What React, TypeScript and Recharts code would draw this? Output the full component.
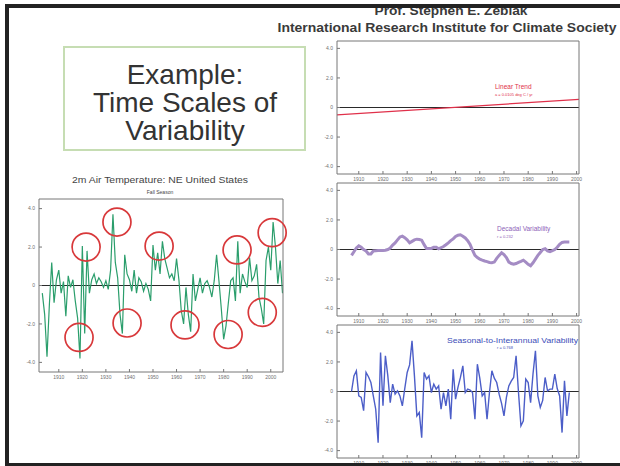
import React from "react"
import { LineChart, Line, XAxis, YAxis, ReferenceLine, ReferenceDot } from "recharts"

const FONT = '"Liberation Sans", Arial, sans-serif'

// left panel: 2m air temperature, NE United States, fall season
const fallYears = [
  1903, 1904, 1905, 1906, 1907, 1908, 1909, 1910, 1911, 1912,
  1913, 1914, 1915, 1916, 1917, 1918, 1919, 1920, 1921, 1922,
  1923, 1924, 1925, 1926, 1927, 1928, 1929, 1930, 1931, 1932,
  1933, 1934, 1935, 1936, 1937, 1938, 1939, 1940, 1941, 1942,
  1943, 1944, 1945, 1946, 1947, 1948, 1949, 1950, 1951, 1952,
  1953, 1954, 1955, 1956, 1957, 1958, 1959, 1960, 1961, 1962,
  1963, 1964, 1965, 1966, 1967, 1968, 1969, 1970, 1971, 1972,
  1973, 1974, 1975, 1976, 1977, 1978, 1979, 1980, 1981, 1982,
  1983, 1984, 1985, 1986, 1987, 1988, 1989, 1990, 1991, 1992,
  1993, 1994, 1995, 1996, 1997, 1998, 1999, 2000, 2001, 2002,
  2003, 2004, 2005,
]
const fallAnomaly = [
  -0.4, -1.5, -3.7, -1.0, 1.2, -0.9, 0.3, 0.8, -0.4, 0.2,
  -1.6, 0.5, -0.1, 0.3, -0.8, -1.7, -3.8, 2.05, -2.5, 1.8,
  -0.4, 0.3, 0.6, 0.1, 0.4, 0.2, -0.1, 0.25, -0.2, 0.8,
  3.7, 1.2, 0.4, -1.5, -2.5, 1.6, 0.6, 0.3, -0.3, 0.8,
  -0.4, 0.4, 0.2, -0.3, 0.1, -0.2, -0.8, 2.1, 0.8, 1.7,
  0.6, 2.3, 1.4, 0.9, 0.4, 0.6, 0.25, 1.4, 0.3, -1.3,
  -2.0, -0.1, -1.5, -2.4, 0.6, -0.8, -0.2, 0.4, -0.4, 0.1,
  0.25, -0.1, -0.6, 0.25, 1.6, 0.25, -1.2, -2.8, -2.1, -0.9,
  0.25, 0.4, -0.8, 2.3, -0.4, 0.6, 0.2, -0.1, 1.45, 0.25,
  0.5, 1.1, -0.6, -1.2, -2.0, 1.3, 2.0, 0.8, 3.3, 2.0,
  0.1, 1.3, -0.4,
]
// red circles around the extremes
const circleYears = [1918.6, 1921.6, 1934.7, 1939.0, 1952.6, 1963.6, 1981.9, 1985.7, 1996.4, 2000.6]
const circleValues = [-2.7, 2.0, 3.3, -1.95, 2.05, -2.05, -2.55, 1.85, -1.4, 2.75]

// right panels
const panelYears = [
  1907, 1908, 1909, 1910, 1911, 1912, 1913, 1914, 1915, 1916,
  1917, 1918, 1919, 1920, 1921, 1922, 1923, 1924, 1925, 1926,
  1927, 1928, 1929, 1930, 1931, 1932, 1933, 1934, 1935, 1936,
  1937, 1938, 1939, 1940, 1941, 1942, 1943, 1944, 1945, 1946,
  1947, 1948, 1949, 1950, 1951, 1952, 1953, 1954, 1955, 1956,
  1957, 1958, 1959, 1960, 1961, 1962, 1963, 1964, 1965, 1966,
  1967, 1968, 1969, 1970, 1971, 1972, 1973, 1974, 1975, 1976,
  1977, 1978, 1979, 1980, 1981, 1982, 1983, 1984, 1985, 1986,
  1987, 1988, 1989, 1990, 1991, 1992, 1993, 1994, 1995, 1996,
  1997,
]
const decadal = [
  -0.4, -0.15, 0.1, 0.25, 0.15, 0.0, -0.1, -0.3, -0.3, -0.1,
  -0.08, -0.07, -0.07, -0.07, -0.05, 0.0, 0.1, 0.3, 0.45, 0.65,
  0.85, 0.9, 0.8, 0.65, 0.45, 0.55, 0.65, 0.7, 0.68, 0.63,
  0.33, 0.07, 0.07, 0.07, 0.15, 0.15, 0.05, 0.12, 0.2, 0.32,
  0.45, 0.6, 0.72, 0.88, 0.97, 1.0, 0.9, 0.78, 0.6, 0.35,
  -0.05, -0.4, -0.55, -0.65, -0.72, -0.78, -0.82, -0.88, -0.9, -0.85,
  -0.6, -0.4, -0.22, -0.35, -0.55, -0.85, -0.95, -1.0, -0.95, -0.87,
  -0.8, -0.72, -0.85, -1.0, -1.1, -0.9, -0.65, -0.4, -0.2, 0.0,
  0.05, -0.1, -0.15, -0.08, 0.0, 0.15, 0.35, 0.48, 0.5, 0.5,
  0.5,
]
const interannual = [
  0, 1.06, 1.4, -0.3, -0.4, -1.3, 1.29, 1.0, 0.61, -0.3,
  -1.2, -3.46, 2.64, -0.97, 2.42, 1.06, -0.75, 0.5, -0.18, 0.05,
  -0.3, -0.97, 0.2, 1.29, 1.8, 3.43, 1.06, -1.65, -1.42, -3.12,
  1.29, 0.84, 1.06, -0.07, 0.5, 0.16, 0.38, -1.2, -0.07, -0.97,
  0.16, -1.88, 1.51, -0.52, 0.3, 0.95, 1.74, -0.07, 0.16, 0.1,
  -0.07, -1.88, 1.85, 0.9, -0.3, -0.07, -1.88, -0.07, 1.4, 0.9,
  0.61, -0.18, -0.8, -1.65, -0.4, 0.38, 0.7, 0.95, 2.42, -0.07,
  -2.33, -1.99, 0.84, 0.61, -0.75, 1.2, 2.76, -0.3, -1.08, -0.6,
  0.95, 0.05, 0.16, 0.16, 1.18, 0.2, -0.3, -2.78, 0.72, -1.65,
  -0.07,
]
const trendYears = [1901, 2001]
const trendValues = [-0.5, 0.55]

const yearTicks = [1910, 1920, 1930, 1940, 1950, 1960, 1970, 1980, 1990, 2000]
const valueTicks = [-4, -2, 0, 2, 4]

const fallData = fallYears.map((year, i) => ({ year, value: fallAnomaly[i] }))
const decadalData = panelYears.map((year, i) => ({ year, value: decadal[i] }))
const interannualData = panelYears.map((year, i) => ({ year, value: interannual[i] }))
const trendData = trendYears.map((year, i) => ({ year, value: trendValues[i] }))

const tickStyle = { fontSize: 5, fill: "#707070", fontFamily: FONT }
const fmt = (v: number) => (v === 0 ? "0" : v.toFixed(1))

// box axes with inward ticks on all four sides
// (top/right axes need a size of at least 1px or recharts skips them)
function boxAxes(xDomain: number[], xHeight: number, yWidth: number) {
  return [
    <XAxis key="xb" dataKey="year" type="number" domain={xDomain} ticks={yearTicks} interval={0}
      allowDataOverflow height={xHeight} tickSize={-3} tickMargin={6} stroke="#777" tick={tickStyle} />,
    <XAxis key="xt" xAxisId="top" orientation="top" dataKey="year" type="number" domain={xDomain}
      ticks={yearTicks} interval={0} allowDataOverflow height={1} tickSize={-3} tick={false} stroke="#777" />,
    <YAxis key="yl" domain={[-4.5, 4.5]} ticks={valueTicks} interval={0} allowDataOverflow width={yWidth}
      tickSize={-3} tickMargin={7} tick={tickStyle} tickFormatter={fmt} stroke="#777" />,
    <YAxis key="yr" yAxisId="right" orientation="right" domain={[-4.5, 4.5]} ticks={valueTicks}
      interval={0} width={1} tickSize={-3} tick={false} stroke="#777" />,
    <ReferenceLine key="zero" y={0} stroke="#2a2a2a" strokeWidth={1} />,
  ]
}

const rightDomain = [1901, 2001]

export default function App() {
  return (
    <div style={{ position: "fixed", left: 0, top: 0, width: 620, height: 466, background: "#fff", overflow: "hidden", fontFamily: FONT }}>
      <div style={{ position: "absolute", left: 0, top: 160 }}>
        <LineChart width={300} height={230} data={fallData} margin={{ top: 38, right: 16, bottom: 5, left: 9 }}>
          {boxAxes([1901.6, 2005.2], 13, 30)}
          <Line dataKey="value" stroke="#2b9e6c" strokeWidth={1.2} dot={false} isAnimationActive={false} />
          {circleYears.map((y, i) => (
            <ReferenceDot key={y} x={y} y={circleValues[i]} r={14} fill="none" stroke="#d8383a" strokeWidth={1.7} />
          ))}
        </LineChart>
      </div>

      <div style={{ position: "absolute", left: 310, top: 30 }}>
        <LineChart width={300} height={160} data={trendData} margin={{ top: 10, right: 30, bottom: 4, left: 7 }}>
          {boxAxes(rightDomain, 12, 20)}
          <Line dataKey="value" stroke="#e0304a" strokeWidth={1.3} dot={false} isAnimationActive={false} />
        </LineChart>
      </div>

      <div style={{ position: "absolute", left: 310, top: 175 }}>
        <LineChart width={300} height={155} data={decadalData} margin={{ top: 7, right: 30, bottom: 2, left: 7 }}>
          {boxAxes(rightDomain, 12, 20)}
          <Line dataKey="value" stroke="#a48cc4" strokeWidth={3} dot={false} isAnimationActive={false} />
        </LineChart>
      </div>

      <div style={{ position: "absolute", left: 310, top: 318 }}>
        <LineChart width={300} height={160} data={interannualData} margin={{ top: 6, right: 30, bottom: 6, left: 7 }}>
          {boxAxes(rightDomain, 14, 20)}
          <Line dataKey="value" stroke="#4c5ec8" strokeWidth={1.4} dot={false} isAnimationActive={false} />
        </LineChart>
      </div>

      <svg width={620} height={466} style={{ position: "absolute", left: 0, top: 0, pointerEvents: "none" }}>
        <rect x={64} y={47} width={241} height={103} fill="none" stroke="#c6ddb3" strokeWidth={2} />
        <g fontFamily={FONT} fill="#333" fontSize={28} textAnchor="middle">
          <text x={185} y={84}>Example:</text>
          <text x={185} y={112}>Time Scales of</text>
          <text x={185} y={140}>Variability</text>
        </g>

        <g fontFamily={FONT} fontWeight="bold" fill="#3a3a3a" textAnchor="middle">
          <text x={451} y={15} fontSize={13} textLength={153} lengthAdjust="spacingAndGlyphs">Prof. Stephen E. Zebiak</text>
          <text x={447} y={32} fontSize={13} textLength={339} lengthAdjust="spacingAndGlyphs">International Research Institute for Climate Society</text>
        </g>

        <g fontFamily={FONT} fill="#444" textAnchor="middle">
          <text x={160} y={183} fontSize={9} textLength={176} lengthAdjust="spacingAndGlyphs">2m Air Temperature: NE United States</text>
          <text x={160} y={194} fontSize={5}>Fall Season</text>
        </g>

        <g fontFamily={FONT}>
          <text x={495} y={89} fontSize={6.5} fill="#e0304a">Linear Trend</text>
          <text x={495} y={96} fontSize={4} fill="#e0304a">a = 0.0105 deg C / yr</text>
          <text x={497} y={231} fontSize={6.5} fill="#8d62b8">Decadal Variability</text>
          <text x={497} y={238} fontSize={4} fill="#8d62b8">r = 0.232</text>
          <text x={447} y={343} fontSize={6.5} fill="#3b4db8" textLength={131} lengthAdjust="spacingAndGlyphs">Seasonal-to-Interannual Variability</text>
          <text x={497} y={349} fontSize={4} fill="#3b4db8">r = 0.768</text>
        </g>

        <rect x={5} y={4} width={615} height={4} fill="#222" />
        <rect x={5} y={4} width={4} height={462} fill="#222" />
        <rect x={5} y={463} width={615} height={3} fill="#222" />
      </svg>
    </div>
  )
}
